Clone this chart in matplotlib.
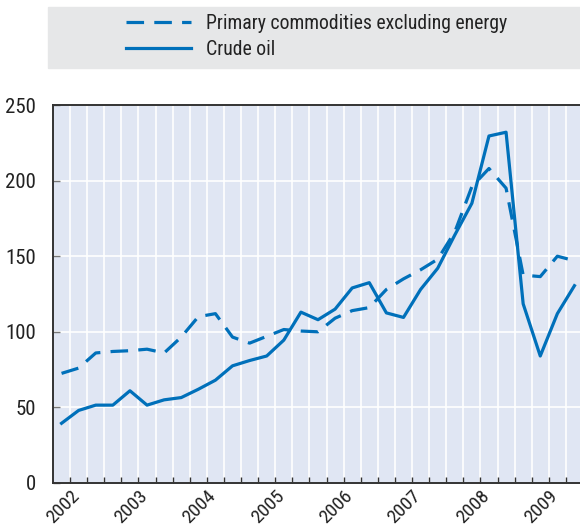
import matplotlib
matplotlib.use("Agg")
import matplotlib.pyplot as plt
from matplotlib.patches import Rectangle
from matplotlib.lines import Line2D

plt.rcParams['font.family'] = ['Liberation Sans Narrow', 'Roboto Condensed',
                               'Archivo Narrow', 'DejaVu Sans']

# quarterly values, 2002 Q1 .. 2009 Q3
years = ["2002", "2003", "2004", "2005", "2006", "2007", "2008", "2009"]
crude_oil = [39.5, 48, 51.5, 51.5, 61, 51.5, 55, 56.5, 62, 68, 77.5, 81, 84, 94.5,
             113, 108, 115, 129, 132.5, 112.5, 109.5, 128, 142, 164, 185, 229.5,
             232, 118.5, 84, 112, 130.5]
primary_ex_energy = [72.5, 76, 86, 87, 87.5, 88.5, 86, 96.5, 110, 112, 96.5, 92.5,
                     97, 101.5, 100.5, 100, 109, 114, 116, 128, 135, 141, 148, 166,
                     196, 208, 195, 137.5, 136.5, 150, 147]
yticks = [0, 50, 100, 150, 200, 250]

blue = "#0070BA"
bg = "#E0E6F3"
dark = "#333333"
txt = "#222222"

fig = plt.figure(figsize=(5.8, 5.31), dpi=100)
ax = fig.add_axes([53 / 580, 48 / 531, 530 / 580, 378 / 531])
ax.set_facecolor(bg)

x = list(range(len(crude_oil)))
ax.plot(x, primary_ex_energy, color=blue, lw=2.3, dashes=(5.5, 3.2),
        label="Primary commodities excluding energy")
ax.plot(x, crude_oil, color=blue, lw=2.3, label="Crude oil")

ax.set_xlim(-0.5, 30.5)
ax.set_ylim(0, 250)

# quarter boundaries as gridlines
bounds = [i + 0.5 for i in range(len(crude_oil))]
ax.set_xticks(bounds)
labels = ["" for b in bounds]
for k, yr in enumerate(years):
    labels[4 * k] = yr
ax.set_xticklabels(labels, rotation=45, ha="right", rotation_mode="anchor")
ax.set_yticks(yticks)
ax.grid(True, color="white", lw=1.2)
ax.set_axisbelow(True)

ax.tick_params(axis="x", direction="in", length=4, width=1, color=dark, pad=3,
               labelsize=14, labelcolor=txt)
ax.tick_params(axis="y", direction="in", length=5, width=1, color="#777777", pad=12,
               labelsize=15, labelcolor=txt)

for s in ["left", "bottom", "top"]:
    ax.spines[s].set_color(dark)
    ax.spines[s].set_linewidth(1.4)
ax.spines["right"].set_visible(False)

# legend band on top
fig.patches.append(Rectangle((48 / 580, 1 - 68 / 531), 1, 61 / 531,
                             transform=fig.transFigure, color="#E6E7E8", zorder=0))
handles = [Line2D([], [], color=blue, lw=2.3, dashes=(5.5, 3.2)),
           Line2D([], [], color=blue, lw=2.3)]
fig.legend(handles, ["Primary commodities excluding energy", "Crude oil"],
           loc="upper left", bbox_to_anchor=(108 / 580, 1 + 4 / 531),
           frameon=False, fontsize=14.2, handlelength=3.3, handletextpad=0.75,
           labelspacing=0.35, labelcolor=txt)

fig.savefig("out.png", dpi=100)
